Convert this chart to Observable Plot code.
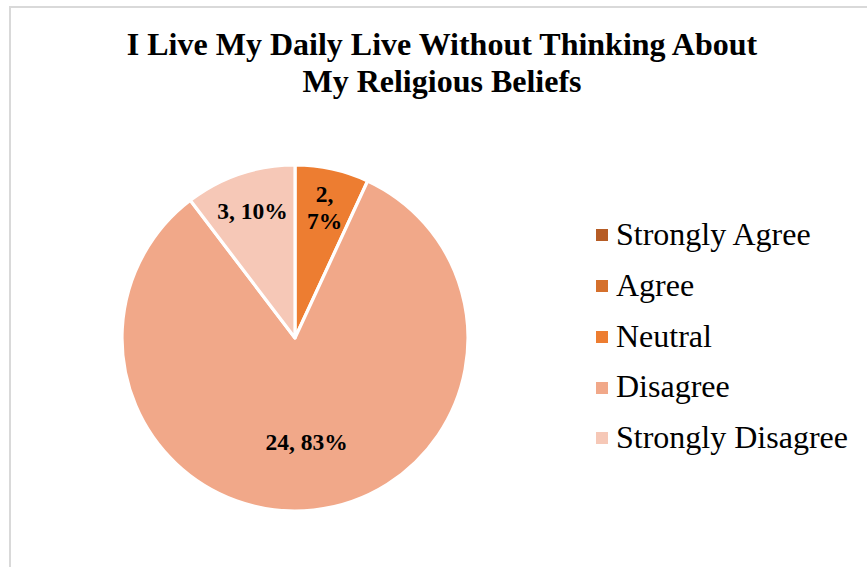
<!DOCTYPE html>
<html>
<head>
<meta charset="utf-8">
<script src="https://cdn.jsdelivr.net/npm/d3@7"></script>
<script src="https://cdn.jsdelivr.net/npm/@observablehq/plot@0.6"></script>
<style>
  body { margin: 0; background: #fff; }
  #chart { position: relative; width: 867px; height: 567px; overflow: hidden;
           font-family: "Liberation Serif", "Times New Roman", serif; color: #000; }
  #title { position: absolute; left: 42px; top: 26px; width: 800px; text-align: center;
           font-size: 32px; line-height: 37px; font-weight: bold; }
  #plot { position: absolute; left: 0; top: 110px; }
  #legend { position: absolute; left: 596px; top: 209px; }
  .row { height: 50.75px; display: flex; align-items: center; font-size: 32px; line-height: 50.75px; white-space: nowrap; }
  .sw { width: 12px; height: 12px; margin-right: 8px; position: relative; top: 1px; }
  #frame { position: absolute; left: 9px; top: 6px; width: 900px; height: 600px;
           border-left: 2px solid #d9d9d9; border-top: 2px solid #d9d9d9; pointer-events: none; }
</style>
</head>
<body>
<div id="chart">
  <div id="title">I Live My Daily Live Without Thinking About<br>My Religious Beliefs</div>
  <div id="plot"></div>
  <div id="legend"></div>
  <div id="frame"></div>
</div>
<script>
// ---- data ----
const categories = ["Strongly Agree", "Agree", "Neutral", "Disagree", "Strongly Disagree"];
const counts     = [0, 0, 2, 24, 3];
const percents   = [0, 0, 7, 83, 10];
const colors     = ["#B65C25", "#D5702C", "#ED7D31", "#F1A889", "#F6C8B7"];

// ---- build table ----
const rows = categories.map((c, i) => ({category: c, count: counts[i], pct: percents[i]}));
const pie = d3.pie().sort(null).value(d => d.count).startAngle(0).endAngle(2 * Math.PI);
const arcs = pie(rows);
const total = d3.sum(counts);
const colorScale = Plot.scale({color: {type: "ordinal", domain: categories, range: colors}});

const labelled = arcs.filter(a => a.data.count > 0).map(a => {
  const mid = (a.startAngle + a.endAngle) / 2;
  const share = a.data.count / total;
  const rho = share > 0.5 ? 0.6 : 0.78;
  return {
    x: rho * Math.sin(mid),
    y: rho * Math.cos(mid),
    text: `${a.data.count}, ${a.data.pct}%`,
    narrow: share < 0.08
  };
});

// Pie slices drawn through Plot's x/y scales
const slices = (index, scales) => {
  const cx = scales.x(0), cy = scales.y(0);
  const r = scales.x(1) - scales.x(0);
  const arc = d3.arc().innerRadius(0).outerRadius(r);
  const g = d3.create("svg:g").attr("transform", `translate(${cx},${cy})`);
  g.selectAll("path")
    .data(arcs.filter(a => a.data.count > 0))
    .join("path")
    .attr("d", arc)
    .attr("fill", a => colorScale.apply(a.data.category))
    .attr("stroke", "#fff")
    .attr("stroke-width", 3.2)
    .attr("stroke-linejoin", "round");
  return g.node();
};

const textOpts = {
  x: "x", y: "y", text: "text",
  fontFamily: "Liberation Serif, Times New Roman, serif",
  fontWeight: "bold", fontSize: 23.5, fill: "#000", textAnchor: "middle", lineHeight: 1.15
};

const chart = Plot.plot({
  width: 867,
  height: 457,
  style: {background: "none", overflow: "visible"},
  x: {domain: [-1, 1], range: [122, 468], axis: null},
  y: {domain: [-1, 1], range: [401, 55], axis: null},
  marks: [
    slices,
    Plot.text(labelled.filter(d => !d.narrow), textOpts),
    Plot.text(labelled.filter(d => d.narrow), {...textOpts, lineWidth: 2})
  ]
});
document.getElementById("plot").appendChild(chart);

// ---- legend ----
const legend = document.getElementById("legend");
categories.forEach((c, i) => {
  const row = document.createElement("div");
  row.className = "row";
  const sw = document.createElement("div");
  sw.className = "sw";
  sw.style.background = colorScale.apply(c);
  const t = document.createElement("span");
  t.textContent = c;
  row.appendChild(sw);
  row.appendChild(t);
  legend.appendChild(row);
});
</script>
</body>
</html>
